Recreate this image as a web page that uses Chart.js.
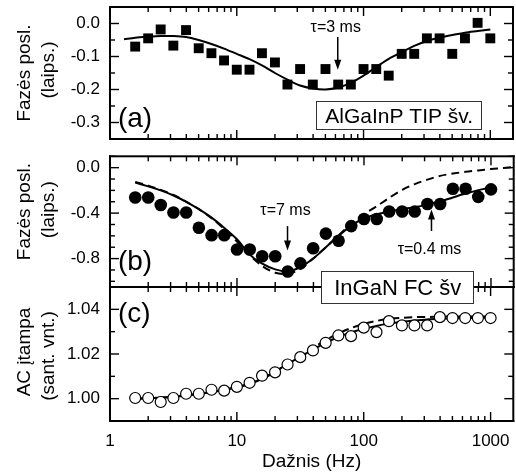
<!DOCTYPE html>
<html><head><meta charset="utf-8">
<script src="https://cdn.jsdelivr.net/npm/chart.js@4.4.1/dist/chart.umd.min.js"></script>
<style>
html,body{margin:0;padding:0;background:#fff;overflow:hidden;}
#wrap{position:relative;width:516px;height:475px;overflow:hidden;background:#fff;}
.pane{position:absolute;left:0;width:520px;}
canvas{display:block;}
</style></head><body>
<div id="wrap">
 <div class="pane" style="top:280px;height:195px;z-index:1"><canvas id="cC" width="520" height="195"></canvas></div>
 <div class="pane" style="top:150px;height:160px;z-index:2"><canvas id="cB" width="520" height="160"></canvas></div>
 <div class="pane" style="top:0px;height:146px;z-index:3"><canvas id="cA" width="520" height="146"></canvas></div>
</div>
<script>
// ---------- data ----------
const freq = [1.58, 2.0, 2.51, 3.16, 3.98, 5.01, 6.31, 7.94, 10, 12.6, 15.8, 20, 25.1, 31.6, 39.8, 50.1, 63.1, 79.4, 100, 126, 158, 200, 251, 316, 398, 501, 631, 794, 1000];
const phaseA = [-0.070,-0.045,-0.018,-0.067,-0.020,-0.075,-0.090,-0.112,-0.140,-0.140,-0.090,-0.118,-0.185,-0.138,-0.185,-0.138,-0.185,-0.185,-0.138,-0.138,-0.158,-0.092,-0.092,-0.045,-0.045,-0.092,-0.045,0.002,-0.045];
const phaseB = [-0.263,-0.263,-0.328,-0.394,-0.394,-0.529,-0.594,-0.594,-0.720,-0.720,-0.780,-0.780,-0.914,-0.842,-0.709,-0.580,-0.643,-0.514,-0.452,-0.452,-0.386,-0.386,-0.386,-0.320,-0.320,-0.186,-0.186,-0.257,-0.191];
const acC = [1.0003,1.0003,0.9985,1.0003,1.0022,1.0022,1.0040,1.0036,1.0053,1.0071,1.0103,1.0118,1.0153,1.0186,1.0216,1.0250,1.0283,1.0280,1.0318,1.0298,1.0347,1.0328,1.0328,1.0328,1.0365,1.0361,1.0361,1.0361,1.0361];

const fitFreqA = [1.29, 1.58, 2.0, 2.51, 3.16, 3.98, 5.01, 6.31, 7.94, 10, 12.6, 15.8, 20, 25.1, 31.6, 39.8, 50.1, 63.1, 79.4, 100, 126, 158, 200, 251, 316, 398, 501, 631, 794, 1000];
const fitA = [-0.048,-0.043,-0.040,-0.038,-0.038,-0.041,-0.050,-0.062,-0.076,-0.092,-0.108,-0.127,-0.150,-0.170,-0.188,-0.197,-0.200,-0.194,-0.180,-0.158,-0.132,-0.107,-0.087,-0.068,-0.053,-0.043,-0.035,-0.028,-0.023,-0.018];

const fitFreq = [1.58, 2.0, 2.51, 3.16, 3.98, 5.01, 6.31, 7.94, 10, 12.6, 15.8, 20, 25.1, 31.6, 39.8, 50.1, 63.1, 79.4, 100, 126, 158, 200, 251, 316, 398, 501, 631, 794, 1000];
const fitB = [-0.130,-0.165,-0.200,-0.245,-0.300,-0.365,-0.440,-0.530,-0.630,-0.765,-0.845,-0.895,-0.912,-0.875,-0.800,-0.700,-0.600,-0.510,-0.445,-0.410,-0.385,-0.365,-0.348,-0.325,-0.298,-0.262,-0.228,-0.198,-0.172];
const fitFreqB2 = [1.58, 2.0, 2.51, 3.16, 3.98, 5.01, 6.31, 7.94, 10, 12.6, 15.8, 20, 25.1, 31.6, 39.8, 50.1, 63.1, 79.4, 100, 126, 158, 200, 251, 316, 398, 501, 631, 794, 1000, 1259, 1510];
const fitB2 = [-0.125,-0.158,-0.195,-0.240,-0.298,-0.365,-0.445,-0.540,-0.650,-0.770,-0.865,-0.925,-0.935,-0.890,-0.800,-0.700,-0.595,-0.495,-0.410,-0.340,-0.265,-0.195,-0.145,-0.105,-0.072,-0.052,-0.036,-0.024,-0.012,-0.002,0.005];
const fitC = [1.0000,1.0002,1.0005,1.0009,1.0015,1.0022,1.0030,1.0040,1.0052,1.0068,1.0090,1.0122,1.0155,1.0188,1.0220,1.0250,1.0276,1.0297,1.0313,1.0326,1.0336,1.0344,1.0350,1.0355,1.0358,1.0360,1.0361,1.0362,1.0363];
const fitC2 = [1.0000,1.0002,1.0005,1.0009,1.0014,1.0021,1.0029,1.0039,1.0051,1.0066,1.0088,1.0120,1.0155,1.0192,1.0228,1.0262,1.0292,1.0316,1.0335,1.0348,1.0357,1.0362,1.0365,1.0366,1.0367,1.0368,1.0368,1.0368,1.0368];

const xTicks = [1, 10, 100, 1000];
const yTicksA = [0.0, -0.1, -0.2, -0.3];
const yTicksB = [0.0, -0.4, -0.8];
const yTicksC = [1.00, 1.02, 1.04];

// ---------- helpers ----------
const FONT = "'Liberation Sans', Arial, sans-serif";
Chart.defaults.font.family = FONT;
Chart.defaults.color = '#000';
const pts = (xs, ys) => xs.map((x, i) => ({x: x, y: ys[i]}));

const LOGT = [];
for (let e = 0; e <= 3; e++) for (let m = 1; m <= 9; m++) LOGT.push({v: m * Math.pow(10, e), major: m === 1});

const frame = {
  id: 'frame',
  afterDraw(chart, args, o) {
    const ctx = chart.ctx, a = chart.chartArea, xs = chart.scales.x, ys = chart.scales.y;
    ctx.save();
    try {
      ctx.setLineDash([]);
      ctx.globalAlpha = 1;
      ctx.fillStyle = '#000';
      const vl = (x, y0, y1, w) => ctx.fillRect(x - w / 2, Math.min(y0, y1), w, Math.abs(y1 - y0));
      const hl = (y, x0, x1, w) => ctx.fillRect(Math.min(x0, x1), y - w / 2, Math.abs(x1 - x0), w);
      for (const t of LOGT) {
        if (t.v < 1 || t.v > 1510) continue;
        const px = xs.getPixelForValue(t.v), L = t.major ? 9 : 5;
        vl(px, a.bottom, a.bottom - L, 1.4);
        vl(px, a.top, a.top + L, 1.4);
      }
      const mn = Number(o.minor), mj = Number(o.major);
      const n0 = Math.ceil(ys.min / mn - 1e-6), n1 = Math.floor(ys.max / mn + 1e-6);
      for (let k = n0; k <= n1; k++) {
        const v = k * mn, r = v / mj, major = Math.abs(r - Math.round(r)) < 1e-6;
        const py = ys.getPixelForValue(v), L = major ? 9 : 5;
        hl(py, a.left, a.left + L, 1.4);
        hl(py, a.right, a.right - L, 1.4);
      }
      // frame 2px
      hl(a.top, a.left - 1, a.right + 1, 2);
      hl(a.bottom, a.left - 1, a.right + 1, 2);
      vl(a.left, a.top - 1, a.bottom + 1, 2);
      vl(a.right, a.top - 1, a.bottom + 1, 2);
      // y axis title (two lines)
      const cy = (a.top + a.bottom) / 2;
      ctx.font = '19px ' + FONT; ctx.textAlign = 'center'; ctx.textBaseline = 'middle';
      for (const t of o.titles) {
        ctx.save(); ctx.translate(t.x, cy + t.dy); ctx.rotate(-Math.PI / 2);
        ctx.fillText(t.text, 0, 0); ctx.restore();
      }
      // annotations
      for (const n of o.notes) {
        const px = xs.getPixelForValue(n.x);
        if (n.type === 'text') {
          ctx.font = n.size + 'px ' + FONT; ctx.textAlign = n.align || 'center'; ctx.textBaseline = 'middle';
          ctx.fillText(n.text, px, ys.getPixelForValue(n.y));
        } else if (n.type === 'arrow') {
          const p1 = ys.getPixelForValue(n.y1), p2 = ys.getPixelForValue(n.y2), d = Math.sign(p2 - p1);
          vl(px, p1, p2 - d * 8, 1.5);
          ctx.beginPath(); ctx.moveTo(px, p2); ctx.lineTo(px - 3.5, p2 - d * 10); ctx.lineTo(px + 3.5, p2 - d * 10); ctx.closePath(); ctx.fill();
        } else if (n.type === 'box') {
          const py = ys.getPixelForValue(n.y);
          ctx.font = n.size + 'px ' + FONT; ctx.textAlign = 'center'; ctx.textBaseline = 'middle';
          const w = Math.round(ctx.measureText(n.text).width + 2 * n.padX);
          const x0 = Math.round(px - w / 2), y0 = Math.round(py - n.h / 2);
          ctx.fillStyle = '#333'; ctx.fillRect(x0 - 1, y0 - 1, w + 2, n.h + 2);
          ctx.fillStyle = '#fff'; ctx.fillRect(x0, y0, w, n.h);
          ctx.fillStyle = '#000';
          ctx.fillText(n.text, px, py + 1);
        }
      }
    } catch (e) {
      ctx.fillStyle = 'red'; ctx.font = '12px sans-serif'; ctx.textAlign = 'left'; ctx.fillText(String(e), 120, 30);
    }
    ctx.restore();
  }
};

function yAxis(min, max, ticks, dec) {
  return {
    min: min, max: max,
    afterFit: s => { s.width = 110; s.paddingTop = 0; s.paddingBottom = 0; },
    afterBuildTicks: s => { s.ticks = ticks.map(v => ({value: v})); },
    ticks: { callback: v => Number(v).toFixed(dec), padding: 10, font: {size: 17}, color: '#000' },
    grid: { display: false, drawTicks: false }, border: { display: false }
  };
}
const xHidden = { type: 'logarithmic', min: 1, max: 1510, display: false };
const lineDs = (d, dash) => ({ data: d, showLine: true, pointRadius: 0, borderColor: '#000', borderWidth: 2, borderDash: dash || [], order: 2, fill: false, tension: 0.3 });
const baseOpts = { responsive: false, animation: false, events: [] };

// ---------- chart (a) ----------
new Chart(document.getElementById('cA'), {
  type: 'scatter',
  data: { datasets: [
    lineDs(pts(fitFreqA, fitA)),
    { data: pts(freq, phaseA), pointStyle: 'rect', pointRadius: 7, backgroundColor: '#000', borderColor: '#000', borderWidth: 0, order: 1 }
  ]},
  options: Object.assign({}, baseOpts, {
    layout: { padding: { top: 6, right: 3, bottom: 6, left: 0 } },
    plugins: { legend: {display: false}, tooltip: {enabled: false},
      frame: { minor: 0.05, major: 0.1,
        titles: [{text: 'Fazės posl.', x: 25, dy: 0}, {text: '(laips.)', x: 49, dy: -3}],
        notes: [
          {type: 'text', x: 60.4, y: -0.011, text: 'τ=3 ms', size: 16},
          {type: 'arrow', x: 62.6, y1: -0.041, y2: -0.140},
          {type: 'box', x: 191, y: -0.28, text: 'AlGaInP TIP šv.', size: 21, padX: 8, h: 27},
          {type: 'text', x: 1.155, y: -0.29, text: '(a)', size: 28, align: 'left'}
        ] } },
    scales: { x: xHidden, y: yAxis(-0.35, 0.05, yTicksA, 1) }
  }),
  plugins: [frame]
});

// ---------- chart (b) ----------
new Chart(document.getElementById('cB'), {
  type: 'scatter',
  data: { datasets: [
    lineDs(pts(fitFreq, fitB)),
    lineDs(pts(fitFreqB2, fitB2), [8, 5]),
    { data: pts(freq, phaseB), pointStyle: 'circle', pointRadius: 6.3, backgroundColor: '#000', borderColor: '#000', borderWidth: 0, order: 1 }
  ]},
  options: Object.assign({}, baseOpts, {
    layout: { padding: { top: 4, right: 3, bottom: 23, left: 0 } },
    plugins: { legend: {display: false}, tooltip: {enabled: false},
      frame: { minor: 0.1, major: 0.4,
        titles: [{text: 'Fazės posl.', x: 25, dy: -10}, {text: '(laips.)', x: 49, dy: -12}],
        notes: [
          {type: 'text', x: 24.1, y: -0.377, text: 'τ=7 ms', size: 16},
          {type: 'arrow', x: 25.0, y1: -0.514, y2: -0.728},
          {type: 'text', x: 328, y: -0.72, text: 'τ=0.4 ms', size: 16},
          {type: 'arrow', x: 340, y1: -0.557, y2: -0.368},
          {type: 'text', x: 1.155, y: -0.831, text: '(b)', size: 28, align: 'left'},
          {type: 'box', x: 184.5, y: -1.058, text: 'InGaN FC šv', size: 22, padX: 12, h: 31}
        ] } },
    scales: { x: xHidden, y: yAxis(-1.05, 0.1, yTicksB, 1) }
  }),
  plugins: [frame]
});

// ---------- chart (c) ----------
new Chart(document.getElementById('cC'), {
  type: 'scatter',
  data: { datasets: [
    lineDs(pts(fitFreq, fitC)),
    lineDs(pts(fitFreq, fitC2), [8, 5]),
    { data: pts(freq, acC), pointStyle: 'circle', pointRadius: 5.5, backgroundColor: '#fff', borderColor: '#000', borderWidth: 1.2, order: 1 }
  ]},
  options: Object.assign({}, baseOpts, {
    layout: { padding: { top: 7, right: 3, bottom: 0, left: 0 } },
    plugins: { legend: {display: false}, tooltip: {enabled: false},
      frame: { minor: 0.01, major: 0.02,
        titles: [{text: 'AC įtampa', x: 25, dy: -2}, {text: '(sant. vnt.)', x: 49, dy: 2}],
        notes: [
          {type: 'text', x: 1.155, y: 1.0378, text: '(c)', size: 28, align: 'left'}
        ] } },
    scales: {
      x: { type: 'logarithmic', min: 1, max: 1510,
        afterFit: s => { s.height = 54; s.paddingLeft = 0; s.paddingRight = 0; },
        afterBuildTicks: s => { s.ticks = xTicks.map(v => ({value: v})); },
        ticks: { callback: v => String(v), padding: 10, maxRotation: 0, autoSkip: false, font: {size: 17}, color: '#000' },
        grid: { display: false, drawTicks: false }, border: { display: false },
        title: { display: true, text: 'Dažnis (Hz)', font: {size: 19}, color: '#000', padding: {top: 0, bottom: 2} } },
      y: yAxis(0.99, 1.05, yTicksC, 2)
    }
  }),
  plugins: [frame]
});
</script>
</body></html>
